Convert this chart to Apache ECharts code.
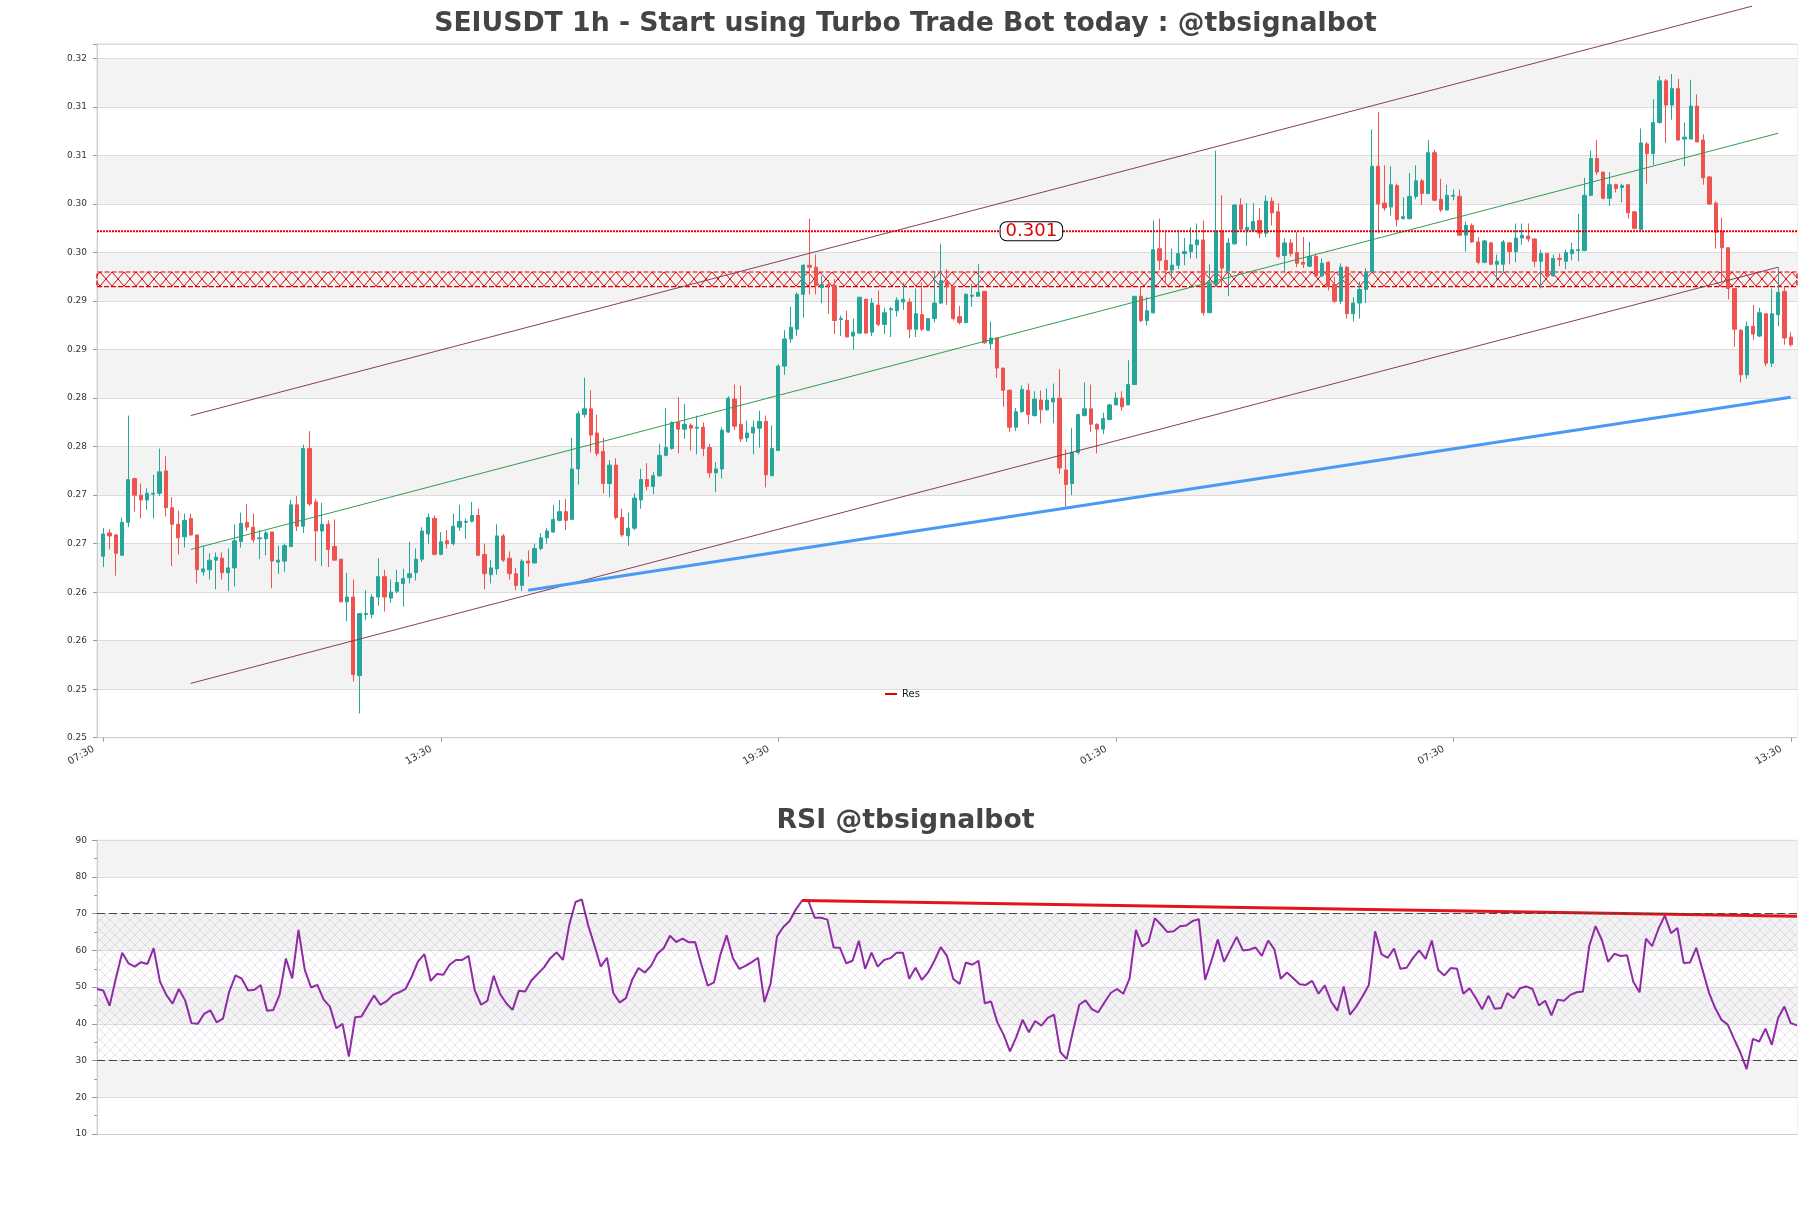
<!DOCTYPE html>
<html>
<head>
<meta charset="utf-8">
<title>SEIUSDT 1h</title>
<script src="https://cdn.jsdelivr.net/npm/echarts@6/dist/echarts.min.js"></script>
<style>
html, body { margin: 0; padding: 0; background: #fff; }
#chart { width: 1811px; height: 1208px; }
</style>
</head>
<body>
<div id="chart"></div>
<script>
// hourly candles, index 0 = 07:30
const opens = [
  .2677,.2701,.2699,.2678,.2712,.2757,.2740,.2735,.2741,.2742,.2765,.2727,.2710,.2697,.2716,.2699,.2661,.2663,.2673,.2675,
  .2660,.2665,.2692,.2712,.2707,.2695,.2695,.2702,.2671,.2672,.2687,.2730,.2708,.2788,.2733,.2703,.2710,.2687,.2674,.2630,
  .2635,.2554,.2617,.2617,.2635,.2656,.2634,.2641,.2649,.2655,.2660,.2674,.2700,.2716,.2679,.2693,.2690,.2707,.2712,.2713,
  .2719,.2679,.2658,.2664,.2698,.2675,.2659,.2647,.2672,.2670,.2685,.2696,.2702,.2714,.2723,.2715,.2767,.2823,.2829,.2804,
  .2785,.2752,.2771,.2717,.2698,.2706,.2735,.2756,.2749,.2760,.2781,.2788,.2815,.2808,.2812,.2809,.2810,.2789,.2763,.2767,
  .2805,.2839,.2813,.2799,.2804,.2809,.2816,.2760,.2786,.2873,.2901,.2911,.2947,.2977,.2975,.2954,.2957,.2956,.2921,.2920,
  .2904,.2907,.2942,.2908,.2936,.2916,.2931,.2930,.2939,.2939,.2911,.2926,.2910,.2922,.2938,.2960,.2955,.2924,.2918,.2945,
  .2945,.2950,.2896,.2902,.2871,.2848,.2810,.2826,.2848,.2822,.2838,.2828,.2836,.2840,.2766,.2752,.2784,.2822,.2829,.2813,
  .2808,.2818,.2833,.2840,.2833,.2854,.2945,.2920,.2928,.2994,.2982,.2972,.2977,.2989,.2991,.2998,.3003,.2928,.2957,.3012,
  .2971,.2999,.3039,.3013,.3013,.3023,.3010,.3043,.3032,.2987,.3000,.2990,.2980,.2976,.2986,.2966,.2980,.2957,.2940,.2975,
  .2927,.2938,.2952,.2970,.3079,.3041,.3037,.3059,.3025,.3025,.3048,.3064,.3051,.3093,.3045,.3034,.3048,.3048,.3008,.3018,
  .3001,.2980,.3000,.2978,.2978,.3000,.2991,.3005,.3007,.3004,.2981,.2989,.2966,.2984,.2981,.2989,.2992,.2992,.3049,.3087,
  .3073,.3046,.3060,.3057,.3060,.3032,.3014,.3102,.3092,.3124,.3167,.3142,.3159,.3107,.3107,.3141,.3106,.3068,.3041,.3012,
  .2995,.2953,.2910,.2864,.2914,.2904,.2927,.2876,.2926,.2950,.2903
];
const closes = [
  .2700,.2698,.2680,.2712,.2756,.2740,.2735,.2742,.2742,.2764,.2727,.2710,.2696,.2714,.2699,.2663,.2664,.2673,.2676,.2660,
  .2665,.2693,.2711,.2707,.2694,.2696,.2701,.2672,.2673,.2688,.2730,.2708,.2788,.2731,.2703,.2710,.2684,.2673,.2630,.2635,
  .2555,.2618,.2618,.2635,.2656,.2635,.2640,.2650,.2654,.2659,.2674,.2703,.2717,.2679,.2692,.2690,.2708,.2713,.2713,.2719,
  .2678,.2659,.2665,.2698,.2673,.2659,.2647,.2672,.2670,.2685,.2696,.2703,.2715,.2723,.2714,.2767,.2824,.2829,.2802,.2783,
  .2752,.2771,.2717,.2699,.2706,.2737,.2756,.2749,.2760,.2781,.2789,.2815,.2808,.2813,.2809,.2810,.2788,.2763,.2767,.2807,
  .2840,.2811,.2798,.2804,.2810,.2816,.2761,.2788,.2873,.2901,.2913,.2947,.2977,.2975,.2956,.2957,.2956,.2920,.2922,.2903,
  .2908,.2944,.2907,.2938,.2916,.2928,.2932,.2941,.2942,.2911,.2927,.2911,.2922,.2938,.2961,.2955,.2922,.2918,.2947,.2946,
  .2949,.2897,.2902,.2871,.2848,.2810,.2826,.2849,.2823,.2839,.2828,.2838,.2840,.2768,.2751,.2784,.2823,.2829,.2813,.2808,
  .2819,.2833,.2840,.2831,.2854,.2945,.2920,.2930,.2993,.2982,.2972,.2977,.2989,.2991,.2998,.3003,.2928,.2958,.3012,.2974,
  .3000,.3039,.3014,.3016,.3022,.3010,.3043,.3031,.2986,.3000,.2989,.2979,.2978,.2986,.2966,.2979,.2955,.2940,.2975,.2927,
  .2938,.2952,.2970,.3079,.3040,.3036,.3060,.3024,.3027,.3048,.3064,.3051,.3093,.3044,.3034,.3049,.3049,.3008,.3018,.3001,
  .2980,.3002,.2978,.2981,.3001,.2991,.3005,.3008,.3004,.2981,.2989,.2966,.2984,.2983,.2990,.2993,.2993,.3049,.3087,.3073,
  .3046,.3060,.3056,.3059,.3031,.3015,.3103,.3092,.3124,.3167,.3142,.3159,.3106,.3109,.3141,.3104,.3067,.3040,.3011,.2995,
  .2953,.2911,.2864,.2914,.2906,.2928,.2876,.2927,.2949,.2902,.2895
];
const highs = [
  .2706,.2705,.2700,.2717,.2822,.2758,.2752,.2747,.2761,.2788,.2780,.2738,.2724,.2721,.2721,.2699,.2688,.2680,.2681,.2681,
  .2685,.2710,.2722,.2731,.2721,.2704,.2703,.2702,.2688,.2690,.2735,.2739,.2792,.2806,.2736,.2732,.2714,.2715,.2674,.2660,
  .2653,.2618,.2642,.2638,.2675,.2663,.2653,.2663,.2664,.2692,.2685,.2707,.2721,.2719,.2702,.2704,.2721,.2730,.2716,.2733,
  .2726,.2690,.2673,.2710,.2700,.2682,.2665,.2674,.2683,.2690,.2701,.2706,.2730,.2735,.2736,.2799,.2827,.2861,.2848,.2823,
  .2799,.2776,.2778,.2726,.2722,.2742,.2767,.2773,.2764,.2793,.2830,.2816,.2841,.2834,.2814,.2822,.2815,.2793,.2774,.2810,
  .2842,.2854,.2853,.2817,.2817,.2827,.2822,.2812,.2875,.2910,.2934,.2949,.2978,.3025,.2988,.2966,.2962,.2963,.2925,.2930,
  .2922,.2944,.2942,.2943,.2951,.2933,.2934,.2944,.2959,.2943,.2953,.2959,.2922,.2969,.2999,.2973,.2955,.2935,.2948,.2958,
  .2978,.2950,.2919,.2902,.2871,.2849,.2830,.2853,.2855,.2847,.2848,.2850,.2855,.2870,.2787,.2809,.2824,.2856,.2854,.2814,
  .2825,.2834,.2846,.2847,.2879,.2945,.2955,.2944,.3023,.3025,.3013,.2994,.3013,.3005,.3016,.3020,.3023,.2978,.3095,.3049,
  .3005,.3040,.3046,.3041,.3041,.3036,.3049,.3047,.3041,.3005,.3004,.3011,.3006,.3001,.2989,.2984,.2981,.2965,.2979,.2976,
  .2944,.2960,.2974,.3117,.3135,.3080,.3079,.3061,.3047,.3072,.3080,.3066,.3106,.3096,.3066,.3060,.3055,.3055,.3022,.3020,
  .3006,.3003,.3001,.2988,.3003,.3001,.3020,.3020,.3020,.3005,.2993,.2989,.2988,.2989,.2993,.3000,.3030,.3067,.3095,.3106,
  .3073,.3073,.3061,.3061,.3060,.3033,.3118,.3104,.3148,.3172,.3169,.3174,.3169,.3124,.3168,.3153,.3112,.3069,.3043,.3026,
  .2995,.2953,.2911,.2919,.2936,.2933,.2927,.2953,.2975,.2955,.2908
];
const lows = [
  .2666,.2684,.2657,.2678,.2707,.2723,.2716,.2725,.2716,.2739,.2718,.2667,.2679,.2686,.2698,.2649,.2657,.2653,.2643,.2653,
  .2641,.2646,.2686,.2703,.2691,.2674,.2678,.2644,.2659,.2661,.2687,.2703,.2701,.2729,.2672,.2667,.2666,.2673,.2630,.2610,
  .2548,.2515,.2611,.2613,.2626,.2620,.2629,.2639,.2625,.2649,.2652,.2671,.2690,.2678,.2678,.2685,.2688,.2703,.2695,.2712,
  .2677,.2643,.2649,.2658,.2671,.2653,.2642,.2641,.2656,.2670,.2683,.2690,.2701,.2713,.2704,.2715,.2751,.2820,.2784,.2780,
  .2742,.2738,.2715,.2697,.2688,.2704,.2726,.2745,.2741,.2759,.2780,.2787,.2783,.2798,.2786,.2782,.2780,.2758,.2743,.2757,
  .2804,.2807,.2795,.2795,.2782,.2789,.2748,.2760,.2786,.2864,.2897,.2904,.2923,.2947,.2947,.2938,.2927,.2906,.2904,.2903,
  .2890,.2906,.2906,.2904,.2914,.2906,.2903,.2924,.2931,.2902,.2903,.2909,.2909,.2918,.2937,.2936,.2920,.2916,.2917,.2934,
  .2945,.2896,.2890,.2861,.2831,.2805,.2806,.2825,.2813,.2821,.2814,.2827,.2814,.2762,.2728,.2740,.2782,.2821,.2805,.2783,
  .2803,.2817,.2833,.2827,.2833,.2854,.2918,.2915,.2927,.2972,.2958,.2963,.2973,.2977,.2984,.2984,.2925,.2928,.2957,.2955,
  .2945,.2998,.3013,.2997,.3012,.3005,.3006,.3018,.2984,.2970,.2986,.2975,.2974,.2975,.2965,.2965,.2951,.2938,.2937,.2922,
  .2919,.2922,.2938,.2970,.3010,.3033,.3028,.3017,.3024,.3024,.3045,.3039,.3050,.3043,.3032,.3033,.3044,.3007,.2991,.3000,
  .2978,.2979,.2977,.2962,.2969,.2978,.2980,.2998,.3001,.2975,.2953,.2965,.2965,.2976,.2973,.2982,.2981,.2992,.3048,.3070,
  .3045,.3038,.3052,.3042,.3025,.3014,.3013,.3061,.3080,.3123,.3103,.3127,.3105,.3079,.3107,.3104,.3060,.3039,.2994,.2960,
  .2942,.2893,.2856,.2860,.2900,.2903,.2873,.2872,.2914,.2895,.2893
];
const rsiValues = [
  49.5,49.1,44.9,52.4,59.4,56.5,55.6,56.8,56.3,60.6,51.5,47.9,45.5,49.5,46.4,40.2,40.0,42.7,43.7,40.4,
  41.4,48.8,53.2,52.3,49.1,49.3,50.6,43.6,43.8,47.9,57.8,52.4,65.6,54.7,49.9,50.6,46.6,44.7,38.8,40.0,
  31.1,41.8,42.0,44.9,47.7,45.2,46.2,47.9,48.6,49.5,52.9,57.0,59.0,51.7,53.6,53.4,56.1,57.4,57.4,58.5,
  49.1,45.2,46.3,53.1,48.2,45.6,43.8,49.0,48.8,51.8,53.6,55.4,57.9,59.5,57.4,66.9,73.2,73.9,66.9,61.4,
  55.6,58.0,48.4,45.8,47.0,52.0,55.2,54.0,55.8,59.1,60.6,64.0,62.3,63.2,62.2,62.3,56.1,50.4,51.3,58.8,
  64.1,57.9,55.0,55.8,56.8,58.0,45.9,51.1,63.8,66.4,68.0,71.2,73.6,73.4,68.9,68.9,68.4,60.8,60.7,56.5,
  57.2,62.6,55.0,59.4,55.6,57.4,57.9,59.4,59.4,52.3,55.3,52.0,54.0,57.2,60.9,58.5,52.2,50.9,56.7,56.1,
  57.2,45.6,46.1,40.4,37.0,32.5,36.4,41.1,37.7,40.8,39.5,41.6,42.5,32.3,30.4,37.9,45.2,46.4,44.0,43.1,
  45.8,48.4,49.5,48.2,52.4,65.6,61.1,62.3,68.8,67.0,65.0,65.2,66.6,66.8,68.0,68.5,52.0,57.2,63.0,56.9,
  60.3,63.7,60.0,60.2,60.8,58.5,62.7,60.3,52.3,54.0,52.4,50.8,50.6,51.7,48.2,50.5,46.1,43.6,50.2,42.5,
  44.7,47.5,50.6,65.2,59.0,58.0,60.5,55.0,55.3,57.9,60.0,57.7,62.7,54.7,53.2,55.2,55.0,48.2,49.7,47.0,
  44.0,47.7,44.1,44.3,48.4,47.0,49.7,50.2,49.5,45.0,46.3,42.3,46.6,46.3,47.9,48.6,48.8,61.2,66.6,62.9,
  56.9,59.1,58.5,58.7,51.5,48.6,63.2,61.2,65.9,69.5,64.7,66.1,56.6,56.7,60.7,54.7,48.6,44.3,41.1,39.8,
  35.9,32.2,27.7,35.9,35.2,38.7,34.3,41.6,44.7,40.2,39.6
];

const xTickIndex = [0, 54, 108, 162, 216, 270];
const xTickLabels = ['07:30', '13:30', '19:30', '01:30', '07:30', '13:30'];
const yTickLabels = ['0.25','0.25','0.26','0.26','0.27','0.27','0.28','0.28','0.29','0.29','0.30','0.30','0.31','0.31','0.32'];

// annotations
const resLevel = 0.3012;
const resText = '0.301';
const zoneRange = [0.2955, 0.2970];
const channelX = [14, 268];
const channelUpper = [0.2822, 0.3251];
const channelMid = [0.2684, 0.3113];
const channelLower = [0.2546, 0.2975];
const upperEnd = [263.8, 0.3244];   // upper line is cut at the top of the figure
const supportX = [68, 270];
const supportY = [0.2642, 0.2841];
const rsiTrendX = [112, 270];
const rsiTrendY = [73.6, 69.3];

const FONT = 'DejaVu Sans';
const yMin = 0.249, yStep = 0.005, yMax = 0.3205;

function hatch(w, h, color, lw) {
    const c = document.createElement('canvas');
    c.width = w;
    c.height = h;
    const g = c.getContext('2d');
    g.strokeStyle = color;
    g.lineWidth = lw;
    g.beginPath();
    g.moveTo(0, 0); g.lineTo(w, h);
    g.moveTo(w, 0); g.lineTo(0, h);
    g.stroke();
    return c;
}

const candles = opens.map((o, i) => [i, o, closes[i], lows[i], highs[i]]);
const rsiData = rsiValues.map((v, i) => [i, v]);

const myChart = echarts.init(document.getElementById('chart'));
myChart.setOption({
    animation: false,
    backgroundColor: '#fff',
    title: [{
        text: 'SEIUSDT 1h - Start using Turbo Trade Bot today : @tbsignalbot',
        left: 'center',
        top: 6,
        textStyle: { fontFamily: FONT, fontSize: 26.7, fontWeight: 'bold', color: '#444' }
    }, {
        text: 'RSI @tbsignalbot',
        left: 'center',
        top: 803,
        textStyle: { fontFamily: FONT, fontSize: 26.7, fontWeight: 'bold', color: '#444' }
    }],
    legend: {
        data: [{ name: 'Res', icon: 'rect' }],
        left: 880,
        top: 684,
        itemWidth: 12,
        itemHeight: 2,
        textStyle: { fontFamily: FONT, fontSize: 10, color: '#222' }
    },
    grid: [
        { left: 97, top: 44, width: 1700, height: 693.7, show: true, borderColor: '#ddd', borderWidth: 1 },
        { left: 97, top: 840.3, width: 1700, height: 293.7, show: true, borderColor: '#ddd', borderWidth: 1 }
    ],
    xAxis: [{
        type: 'value', gridIndex: 0, min: -1, max: 271,
        splitLine: { show: false },
        axisLine: { show: true, onZero: false, lineStyle: { color: '#ccc' } },
        axisTick: { show: true, customValues: xTickIndex, length: 4, lineStyle: { color: '#999' } },
        axisLabel: {
            customValues: xTickIndex,
            rotate: 30,
            fontFamily: FONT, fontSize: 10, color: '#333', margin: 5,
            padding: [0, 11, 0, 0],
            formatter: (v) => {
                const k = xTickIndex.indexOf(Math.round(v));
                return k >= 0 ? xTickLabels[k] : '';
            }
        }
    }, {
        type: 'value', gridIndex: 1, min: 0, max: 270,
        splitLine: { show: false },
        axisLine: { show: true, onZero: false, lineStyle: { color: '#ccc' } },
        axisTick: { show: false },
        axisLabel: { show: false }
    }],
    yAxis: [{
        type: 'value', gridIndex: 0, min: yMin, max: yMax, interval: yStep,
        axisLine: { show: true, onZero: false, lineStyle: { color: '#ccc' } },
        axisTick: { show: true, length: 4, lineStyle: { color: '#999' } },
        axisLabel: {
            fontFamily: FONT, fontSize: 9, color: '#333', margin: 10,
            formatter: (v) => {
                const f = (v - yMin) / yStep;
                const k = Math.round(f);
                return Math.abs(f - k) < 0.01 && yTickLabels[k] ? yTickLabels[k] : '';
            }
        },
        splitLine: { show: true, lineStyle: { color: '#dcdcdc', width: 1 } },
        splitArea: { show: true, areaStyle: { color: ['#ffffff', '#f3f3f3'] } }
    }, {
        type: 'value', gridIndex: 1, min: 10, max: 90, interval: 10,
        axisLine: { show: true, onZero: false, lineStyle: { color: '#ccc' } },
        axisTick: { show: true, length: 5, lineStyle: { color: '#999' } },
        minorTick: { show: true, splitNumber: 2, length: 3, lineStyle: { color: '#999' } },
        axisLabel: { fontFamily: FONT, fontSize: 9, color: '#333', margin: 10 },
        splitLine: { show: true, lineStyle: { color: '#dcdcdc', width: 1 } },
        splitArea: { show: true, areaStyle: { color: ['#ffffff', '#f3f3f3'] } }
    }],
    series: [{
        name: 'candles',
        type: 'candlestick',
        xAxisIndex: 0, yAxisIndex: 0,
        barWidth: 3.8,
        itemStyle: {
            color: '#26a69a', color0: '#ef5350',
            borderColor: '#26a69a', borderColor0: '#ef5350', borderWidth: 1
        },
        data: candles,
        z: 2
    }, {
        name: 'Res',
        type: 'line',
        xAxisIndex: 0, yAxisIndex: 0,
        color: '#e00000',
        symbol: 'none',
        lineStyle: { color: '#e00000', width: 2.2, type: [2, 1] },
        data: [[-1, resLevel], [271, resLevel]],
        markArea: {
            silent: true,
            itemStyle: {
                color: { image: hatch(12, 14, '#e00000', 1), repeat: 'repeat', x: 4, y: 272 % 14 },
                borderColor: '#e00000', borderWidth: 1.2, borderType: [5, 2]
            },
            data: [[{ xAxis: -1, yAxis: zoneRange[0] }, { xAxis: 271, yAxis: zoneRange[1] }]]
        },
        markPoint: {
            symbol: 'rect', symbolSize: 0, silent: true,
            label: {
                show: true, position: 'inside', formatter: resText,
                fontFamily: FONT, fontSize: 18, color: '#e00000',
                backgroundColor: '#fff', borderColor: '#000', borderWidth: 1,
                borderRadius: 6, padding: [0, 5, 0, 5]
            },
            data: [{ coord: [148.5, resLevel] }]
        },
        z: 4
    }, {
        name: 'chUp', type: 'line', xAxisIndex: 0, yAxisIndex: 0, symbol: 'none', clip: false,
        lineStyle: { color: '#8a3d55', width: 1 },
        data: [[channelX[0], channelUpper[0]], upperEnd], z: 3
    }, {
        name: 'chMid', type: 'line', xAxisIndex: 0, yAxisIndex: 0, symbol: 'none',
        lineStyle: { color: '#2e9d52', width: 1 },
        data: [[channelX[0], channelMid[0]], [channelX[1], channelMid[1]]], z: 3
    }, {
        name: 'chLow', type: 'line', xAxisIndex: 0, yAxisIndex: 0, symbol: 'none',
        lineStyle: { color: '#8a3d55', width: 1 },
        data: [[channelX[0], channelLower[0]], [channelX[1], channelLower[1]]], z: 3
    }, {
        name: 'support', type: 'line', xAxisIndex: 0, yAxisIndex: 0, symbol: 'none',
        lineStyle: { color: '#4a9af5', width: 3 },
        data: [[supportX[0], supportY[0]], [supportX[1], supportY[1]]], z: 3
    }, {
        name: 'RSI', type: 'line', xAxisIndex: 1, yAxisIndex: 1, symbol: 'none',
        lineStyle: { color: '#8e2ba5', width: 2 },
        data: rsiData,
        markArea: {
            silent: true,
            itemStyle: { color: { image: hatch(10, 10, 'rgba(170,150,190,0.35)', 0.8), repeat: 'repeat' } },
            data: [[{ yAxis: 30 }, { yAxis: 70 }]]
        },
        markLine: {
            silent: true, symbol: 'none', label: { show: false },
            lineStyle: { color: '#444', width: 1.2, type: [8, 4] },
            data: [{ yAxis: 70 }, { yAxis: 30 }]
        },
        z: 3
    }, {
        name: 'rsiTrend', type: 'line', xAxisIndex: 1, yAxisIndex: 1, symbol: 'none',
        lineStyle: { color: '#e3141c', width: 3 },
        data: [[rsiTrendX[0], rsiTrendY[0]], [rsiTrendX[1], rsiTrendY[1]]], z: 4
    }]
});
window.addEventListener('resize', () => myChart.resize());
</script>
</body>
</html>
